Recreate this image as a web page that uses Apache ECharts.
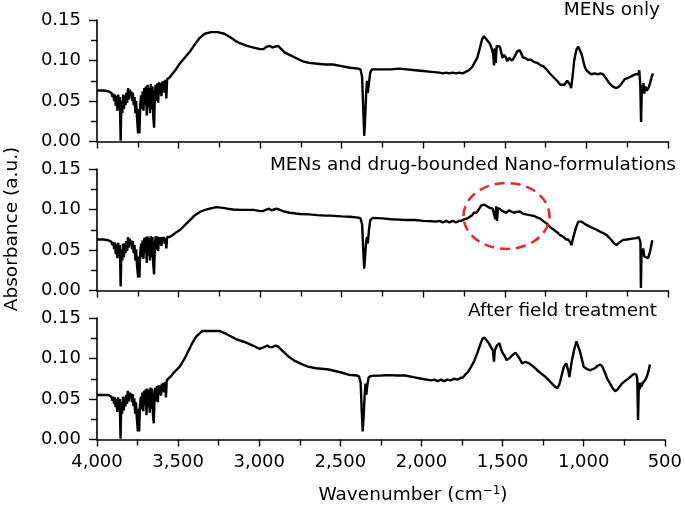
<!DOCTYPE html>
<html>
<head>
<meta charset="utf-8">
<script src="https://cdn.jsdelivr.net/npm/echarts@6/dist/echarts.min.js"></script>
<style>html,body{margin:0;padding:0;background:#fff;}#c{width:685px;height:511px;}</style>
</head>
<body>
<div id="c"></div>
<script>
// ---- data: [wavenumber (cm-1), absorbance (a.u.)] ----
const panelTitles = ['MENs only', 'MENs and drug-bounded Nano-formulations', 'After field treatment'];
const yTicks = [0, 0.05, 0.10, 0.15];
const xTicks = [4000, 3500, 3000, 2500, 2000, 1500, 1000, 500];

const mensOnly = [
[4000,0.063],[3960,0.063],[3930,0.062],[3920,0.062],[3912,0.060],[3905,0.055],[3900,0.059],[3895,0.050],[3890,0.058],[3885,0.044],[3880,0.056],[3875,0.038],[3870,0.058],[3865,0.042],[3860,0.055],[3855,0.001],[3850,0.050],[3845,0.035],[3840,0.058],[3835,0.040],[3830,0.057],[3825,0.045],[3820,0.060],[3815,0.048],[3810,0.066],[3805,0.052],[3800,0.064],[3795,0.058],[3790,0.062],[3785,0.050],[3780,0.060],[3775,0.045],[3770,0.055],[3765,0.035],[3760,0.050],[3755,0.030],[3748,0.010],[3744,0.040],[3740,0.010],[3735,0.045],[3730,0.057],[3725,0.040],[3720,0.062],[3715,0.038],[3710,0.066],[3705,0.045],[3700,0.068],[3695,0.032],[3690,0.070],[3685,0.042],[3680,0.066],[3675,0.035],[3670,0.071],[3665,0.040],[3660,0.068],[3655,0.030],[3650,0.017],[3645,0.060],[3640,0.070],[3635,0.050],[3630,0.072],[3625,0.048],[3620,0.073],[3615,0.058],[3610,0.072],[3605,0.056],[3600,0.074],[3595,0.062],[3590,0.075],[3585,0.060],[3580,0.076],[3575,0.053],[3570,0.077],[3565,0.075],[3555,0.079],[3540,0.083],
[3520,0.088],[3490,0.097],[3460,0.104],[3430,0.111],[3400,0.120],[3370,0.128],[3340,0.133],[3300,0.135],[3260,0.135],[3220,0.133],[3185,0.129],[3150,0.124],[3120,0.121],[3080,0.118],[3040,0.116],[3000,0.114],[2980,0.114],[2960,0.117],[2940,0.118],[2925,0.116],[2910,0.117],[2890,0.118],[2870,0.114],[2850,0.110],[2820,0.107],[2790,0.104],[2760,0.101],[2738,0.099],[2700,0.097],[2650,0.096],[2600,0.095],[2554,0.095],[2500,0.093],[2450,0.091],[2400,0.090],[2385,0.089],[2375,0.080],[2368,0.040],[2362,0.007],[2356,0.030],[2350,0.060],[2345,0.075],[2340,0.060],[2333,0.072],[2325,0.085],[2315,0.089],[2300,0.089],[2200,0.089],[2150,0.090],[2100,0.089],[2050,0.088],[2000,0.087],[1950,0.086],[1900,0.085],[1880,0.084],[1860,0.085],[1840,0.084],[1820,0.085],[1800,0.084],[1780,0.085],[1760,0.084],[1740,0.086],[1720,0.088],[1700,0.092],[1684,0.098],[1670,0.103],[1660,0.110],[1650,0.118],[1640,0.126],[1628,0.130],[1620,0.129],[1605,0.124],[1590,0.120],[1580,0.114],[1572,0.108],[1566,0.094],[1562,0.115],[1556,0.097],[1550,0.118],[1540,0.117],[1530,0.117],[1522,0.110],[1515,0.103],[1505,0.107],[1495,0.104],[1485,0.099],[1475,0.103],[1465,0.104],[1455,0.100],[1440,0.105],[1425,0.111],[1410,0.113],[1400,0.109],[1390,0.104],[1375,0.103],[1360,0.101],[1340,0.101],[1320,0.098],[1300,0.097],[1280,0.094],[1265,0.093],[1240,0.088],[1220,0.083],[1200,0.079],[1180,0.075],[1160,0.070],[1150,0.068],[1135,0.070],[1118,0.075],[1110,0.076],[1100,0.070],[1094,0.066],[1085,0.080],[1075,0.100],[1062,0.113],[1050,0.117],[1040,0.115],[1030,0.108],[1020,0.100],[1010,0.092],[1000,0.088],[985,0.085],[970,0.083],[950,0.084],[930,0.083],[915,0.084],[898,0.083],[880,0.078],[860,0.072],[840,0.068],[820,0.066],[805,0.067],[790,0.070],[765,0.077],[740,0.079],[720,0.081],[700,0.083],[690,0.085],[682,0.083],[676,0.088],[670,0.070],[665,0.024],[660,0.070],[655,0.060],[650,0.072],[645,0.059],[640,0.068],[630,0.063],[620,0.066],[610,0.072],[600,0.080],[592,0.084]
];

const drugBound = [
[4000,0.063],[3960,0.063],[3930,0.062],[3920,0.062],[3912,0.060],[3905,0.056],[3900,0.060],[3895,0.051],[3890,0.059],[3885,0.045],[3880,0.057],[3875,0.040],[3870,0.059],[3865,0.043],[3860,0.056],[3855,0.005],[3850,0.051],[3845,0.037],[3840,0.058],[3835,0.041],[3830,0.058],[3825,0.046],[3820,0.061],[3815,0.049],[3810,0.066],[3805,0.053],[3800,0.064],[3795,0.058],[3790,0.062],[3785,0.051],[3780,0.061],[3775,0.046],[3770,0.056],[3765,0.037],[3760,0.051],[3755,0.032],[3748,0.016],[3744,0.042],[3740,0.016],[3735,0.046],[3730,0.058],[3725,0.041],[3720,0.062],[3715,0.039],[3710,0.065],[3705,0.046],[3700,0.066],[3695,0.034],[3690,0.067],[3685,0.043],[3680,0.065],[3675,0.037],[3670,0.067],[3665,0.041],[3660,0.066],[3655,0.032],[3650,0.020],[3645,0.058],[3640,0.067],[3635,0.050],[3630,0.067],[3625,0.049],[3620,0.066],[3615,0.057],[3610,0.066],[3605,0.055],[3600,0.066],[3595,0.060],[3590,0.066],[3585,0.058],[3580,0.065],[3575,0.052],[3570,0.066],[3565,0.065],[3555,0.066],[3540,0.068],
[3520,0.071],[3490,0.075],[3460,0.081],[3430,0.087],[3400,0.093],[3369,0.097],[3330,0.100],[3290,0.102],[3267,0.103],[3230,0.102],[3200,0.101],[3166,0.100],[3120,0.0995],[3083,0.0995],[3040,0.0995],[3000,0.098],[2983,0.098],[2960,0.100],[2945,0.101],[2930,0.099],[2915,0.100],[2900,0.101],[2885,0.100],[2860,0.098],[2820,0.096],[2780,0.095],[2756,0.0945],[2700,0.094],[2650,0.093],[2600,0.0925],[2572,0.0925],[2500,0.0915],[2450,0.091],[2400,0.090],[2385,0.089],[2375,0.082],[2368,0.050],[2362,0.027],[2356,0.045],[2350,0.060],[2345,0.066],[2340,0.058],[2333,0.075],[2325,0.087],[2310,0.0897],[2250,0.089],[2200,0.088],[2150,0.0875],[2102,0.087],[2050,0.087],[2000,0.086],[1950,0.0855],[1919,0.085],[1900,0.086],[1880,0.084],[1860,0.086],[1840,0.084],[1820,0.086],[1800,0.084],[1780,0.086],[1766,0.086],[1750,0.088],[1730,0.089],[1715,0.091],[1700,0.093],[1690,0.096],[1674,0.096],[1660,0.100],[1645,0.105],[1635,0.107],[1625,0.106],[1610,0.104],[1592,0.102],[1575,0.101],[1565,0.103],[1558,0.088],[1553,0.104],[1548,0.086],[1542,0.102],[1537,0.104],[1520,0.099],[1505,0.097],[1490,0.096],[1475,0.099],[1460,0.0975],[1445,0.096],[1430,0.097],[1420,0.098],[1408,0.0975],[1390,0.095],[1370,0.094],[1347,0.093],[1320,0.092],[1300,0.090],[1286,0.089],[1260,0.085],[1240,0.082],[1224,0.0785],[1200,0.075],[1180,0.072],[1163,0.0687],[1140,0.066],[1125,0.063],[1112,0.063],[1100,0.060],[1092,0.056],[1080,0.066],[1065,0.077],[1050,0.085],[1041,0.087],[1030,0.085],[1015,0.083],[1000,0.081],[970,0.078],[938,0.075],[910,0.072],[877,0.0687],[850,0.063],[830,0.058],[816,0.056],[800,0.059],[775,0.0625],[750,0.063],[720,0.064],[693,0.0646],[680,0.066],[673,0.067],[669,0.060],[666,0.003],[662,0.050],[656,0.045],[652,0.052],[645,0.042],[635,0.043],[622,0.040],[610,0.048],[600,0.058],[596,0.062]
];

const afterField = [
[4000,0.055],[3960,0.055],[3930,0.055],[3920,0.055],[3912,0.053],[3905,0.048],[3900,0.053],[3895,0.044],[3890,0.052],[3885,0.040],[3880,0.050],[3875,0.034],[3870,0.052],[3865,0.038],[3860,0.050],[3855,0.001],[3850,0.046],[3845,0.032],[3840,0.053],[3835,0.036],[3830,0.052],[3825,0.041],[3820,0.055],[3815,0.044],[3810,0.060],[3805,0.047],[3800,0.058],[3795,0.052],[3790,0.057],[3785,0.046],[3780,0.056],[3775,0.041],[3770,0.051],[3765,0.032],[3760,0.046],[3755,0.028],[3748,0.010],[3744,0.038],[3740,0.010],[3735,0.042],[3730,0.053],[3725,0.037],[3720,0.058],[3715,0.035],[3710,0.060],[3705,0.042],[3700,0.062],[3695,0.030],[3690,0.063],[3685,0.040],[3680,0.061],[3675,0.033],[3670,0.064],[3665,0.038],[3660,0.063],[3655,0.030],[3650,0.020],[3645,0.055],[3640,0.064],[3635,0.047],[3630,0.066],[3625,0.046],[3620,0.067],[3615,0.055],[3610,0.067],[3605,0.054],[3600,0.069],[3595,0.059],[3590,0.070],[3585,0.058],[3580,0.071],[3575,0.052],[3570,0.073],[3565,0.074],[3555,0.076],[3540,0.079],
[3530,0.082],[3490,0.090],[3460,0.100],[3430,0.112],[3410,0.120],[3389,0.127],[3350,0.134],[3300,0.134],[3246,0.134],[3200,0.130],[3144,0.124],[3100,0.121],[3073,0.119],[3040,0.116],[3000,0.112],[2991,0.111],[2970,0.114],[2950,0.116],[2935,0.114],[2920,0.114],[2900,0.116],[2885,0.115],[2860,0.110],[2817,0.102],[2780,0.097],[2738,0.093],[2700,0.090],[2650,0.088],[2600,0.087],[2572,0.0864],[2500,0.083],[2450,0.080],[2400,0.079],[2385,0.078],[2375,0.070],[2368,0.035],[2362,0.010],[2356,0.030],[2350,0.055],[2345,0.069],[2340,0.055],[2333,0.068],[2325,0.077],[2309,0.0785],[2250,0.079],[2200,0.0795],[2150,0.079],[2102,0.079],[2050,0.077],[2000,0.075],[1940,0.073],[1920,0.074],[1900,0.072],[1880,0.074],[1860,0.072],[1840,0.074],[1820,0.073],[1800,0.075],[1776,0.074],[1760,0.076],[1745,0.0765],[1730,0.080],[1715,0.083],[1694,0.0897],[1675,0.097],[1657,0.106],[1640,0.116],[1625,0.124],[1612,0.126],[1600,0.124],[1585,0.119],[1572,0.114],[1560,0.110],[1553,0.096],[1548,0.110],[1535,0.116],[1520,0.119],[1510,0.112],[1500,0.107],[1490,0.104],[1475,0.098],[1460,0.100],[1440,0.104],[1420,0.107],[1408,0.106],[1395,0.100],[1380,0.094],[1360,0.096],[1337,0.094],[1310,0.090],[1286,0.0855],[1260,0.081],[1240,0.078],[1224,0.075],[1200,0.070],[1180,0.066],[1163,0.063],[1150,0.068],[1135,0.080],[1122,0.090],[1108,0.094],[1095,0.085],[1088,0.077],[1075,0.095],[1060,0.110],[1045,0.121],[1037,0.120],[1025,0.110],[1010,0.098],[1000,0.0897],[980,0.087],[960,0.0855],[949,0.0855],[930,0.088],[915,0.091],[898,0.0926],[885,0.090],[870,0.083],[855,0.075],[837,0.069],[820,0.063],[806,0.0595],[790,0.062],[765,0.069],[740,0.073],[720,0.076],[704,0.079],[690,0.081],[684,0.083],[676,0.080],[670,0.075],[665,0.024],[660,0.070],[655,0.062],[650,0.070],[645,0.065],[635,0.070],[622,0.073],[610,0.078],[600,0.085],[592,0.0926]
];

// circled region in panel 2 (centre, in data units)
const highlightCentre = [1490, 0.092];

// ---- chart ----
const FONT = '"DejaVu Sans", "Liberation Sans", Arial, sans-serif';
const chart = echarts.init(document.getElementById('c'), null, {renderer: 'canvas'});
const gridTops = [20, 169, 318];
const grids = gridTops.map(t => ({left: 97, right: 17, top: t, height: 121.5, containLabel: false}));
const seriesData = [mensOnly, drugBound, afterField];

const xAxes = grids.map((g, i) => ({
  type: 'value', gridIndex: i, min: 500, max: 4000, interval: 500, inverse: true,
  axisLine: {show: true, onZero: false, lineStyle: {color: '#000', width: 1.6}},
  axisTick: {show: true, length: 7, lineStyle: {color: '#000', width: 1.4}},
  minorTick: {show: true, splitNumber: 2, length: 6, lineStyle: {color: '#000', width: 1.4}},
  splitLine: {show: false},
  axisLabel: {show: i === 2, margin: 14, color: '#000', fontSize: 18, fontFamily: FONT,
    formatter: v => xTicks.indexOf(v) >= 0 ? v.toLocaleString('en-US') : ''}
}));
const yAxes = grids.map((g, i) => ({
  type: 'value', gridIndex: i, min: 0, max: 0.15, interval: 0.05,
  axisLine: {show: true, lineStyle: {color: '#000', width: 1.6}},
  axisTick: {show: true, length: 8, lineStyle: {color: '#000', width: 1.4}},
  minorTick: {show: true, splitNumber: 2, length: 6, lineStyle: {color: '#000', width: 1.4}},
  splitLine: {show: false},
  axisLabel: {margin: 16, color: '#000', fontSize: 18, fontFamily: FONT,
    formatter: v => yTicks.some(t => Math.abs(t - v) < 1e-9) ? v.toFixed(2) : ''}
}));

const series = seriesData.map((d, i) => ({
  type: 'line', xAxisIndex: i, yAxisIndex: i, data: d, showSymbol: false, symbol: 'none',
  lineStyle: {color: '#000', width: 2.4}, animation: false, silent: true
}));

chart.setOption({
  backgroundColor: '#fff',
  animation: false,
  grid: grids, xAxis: xAxes, yAxis: yAxes, series: series,
  graphic: [
    {type: 'text', right: 25, top: 1, style: {text: panelTitles[0], font: '18.5px ' + FONT, fill: '#000'}},
    {type: 'text', right: 9, top: 156, style: {text: panelTitles[1], font: '18.5px ' + FONT, fill: '#000'}},
    {type: 'text', right: 28, top: 302, style: {text: panelTitles[2], font: '18.5px ' + FONT, fill: '#000'}},
    {type: 'text', id: 'xname', x: 413, y: 495,
      style: {text: '{n|Wavenumber (cm}{s|−1}{n|)}', align: 'center', verticalAlign: 'middle',
        rich: {n: {font: '18.5px ' + FONT, fill: '#000', color: '#000'},
               s: {font: '12px ' + FONT, fill: '#000', color: '#000', verticalAlign: 'top', padding: [0, 0, 8, 0]}}}}
  ]
});

const c = chart.convertToPixel({gridIndex: 1}, highlightCentre);
chart.setOption({graphic: [
  {type: 'text', id: 'yname', x: 3, y: 229, rotation: Math.PI / 2,
    style: {text: 'Absorbance (a.u.)', font: '18.5px ' + FONT, fill: '#000', align: 'center', verticalAlign: 'top'}},
  {type: 'ellipse', id: 'ring', shape: {cx: c[0], cy: c[1], rx: 43, ry: 33}, z: 100,
    style: {fill: 'none', stroke: '#e8262c', lineWidth: 2.5, lineDash: [10, 6]}}
]});
</script>
</body>
</html>
